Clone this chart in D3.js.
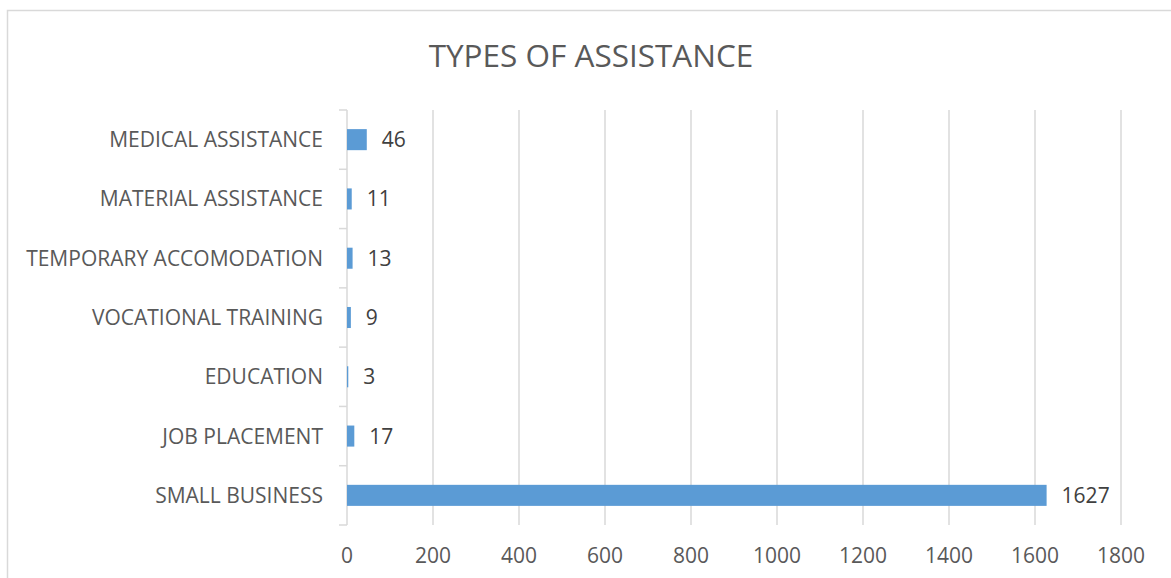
<!DOCTYPE html>
<html><head><meta charset="utf-8">
<script src="https://cdn.jsdelivr.net/npm/d3@7"></script>
<style>body{margin:0;background:#fff}</style>
</head><body>
<svg id="c" width="1171" height="578"></svg>
<script>
const categories = ["MEDICAL ASSISTANCE","MATERIAL ASSISTANCE","TEMPORARY ACCOMODATION","VOCATIONAL TRAINING","EDUCATION","JOB PLACEMENT","SMALL BUSINESS"];
const values = [46, 11, 13, 9, 3, 17, 1627];
const xTicks = [0,200,400,600,800,1000,1200,1400,1600,1800];
const title = "TYPES OF ASSISTANCE";

const svg = d3.select("#c");
const font = "'Open Sans', sans-serif";
const m = {left:347, right:1121, top:110, bottom:525};

svg.append("rect").attr("x",7.5).attr("y",10.5).attr("width",1200).attr("height",700)
  .attr("fill","#fff").attr("stroke","#d9d9d9").attr("stroke-width",1.5);

svg.append("text").attr("x",591).attr("y",67).attr("text-anchor","middle")
  .attr("font-family",font).attr("font-size",31.5).attr("fill","#595959").text(title);

const x = d3.scaleLinear().domain([0,1800]).range([m.left,m.right]);
const y = d3.scaleBand().domain(categories).range([m.top,m.bottom]).paddingInner(0.645).paddingOuter(0.3225);

// gridlines
svg.append("g").selectAll("line").data(xTicks.slice(1)).join("line")
  .attr("x1",d=>x(d)).attr("x2",d=>x(d)).attr("y1",m.top).attr("y2",m.bottom)
  .attr("stroke","#d9d9d9").attr("stroke-width",1.5);

// x tick labels
svg.append("g").selectAll("text").data(xTicks).join("text")
  .attr("x",d=>x(d)).attr("y",563).attr("text-anchor","middle")
  .attr("font-family",font).attr("font-size",21).attr("fill","#595959").text(d=>d);

// category axis
const band = (m.bottom-m.top)/categories.length;
svg.append("line").attr("x1",m.left).attr("x2",m.left).attr("y1",m.top).attr("y2",m.bottom)
  .attr("stroke","#d9d9d9").attr("stroke-width",1.5);
const edges = d3.range(categories.length+1).map(i=>m.top+i*band);
svg.append("g").selectAll("line").data(edges).join("line")
  .attr("x1",m.left-8).attr("x2",m.left).attr("y1",d=>d).attr("y2",d=>d)
  .attr("stroke","#d9d9d9").attr("stroke-width",1.5);

svg.append("g").selectAll("text").data(categories).join("text")
  .attr("x",m.left-24).attr("y",d=>y(d)+y.bandwidth()/2).attr("dy","0.36em")
  .attr("text-anchor","end").attr("font-family",font).attr("font-size",21).attr("fill","#595959").text(d=>d);

// bars
svg.append("g").selectAll("rect").data(values).join("rect")
  .attr("x",x(0)).attr("y",(d,i)=>y(categories[i])).attr("height",y.bandwidth())
  .attr("width",d=>x(d)-x(0)).attr("fill","#5b9bd5");

// value labels
svg.append("g").selectAll("text").data(values).join("text")
  .attr("x",d=>x(d)+15).attr("y",(d,i)=>y(categories[i])+y.bandwidth()/2).attr("dy","0.36em")
  .attr("font-family",font).attr("font-size",21).attr("fill","#404040").text(d=>d);
</script>
</body></html>
